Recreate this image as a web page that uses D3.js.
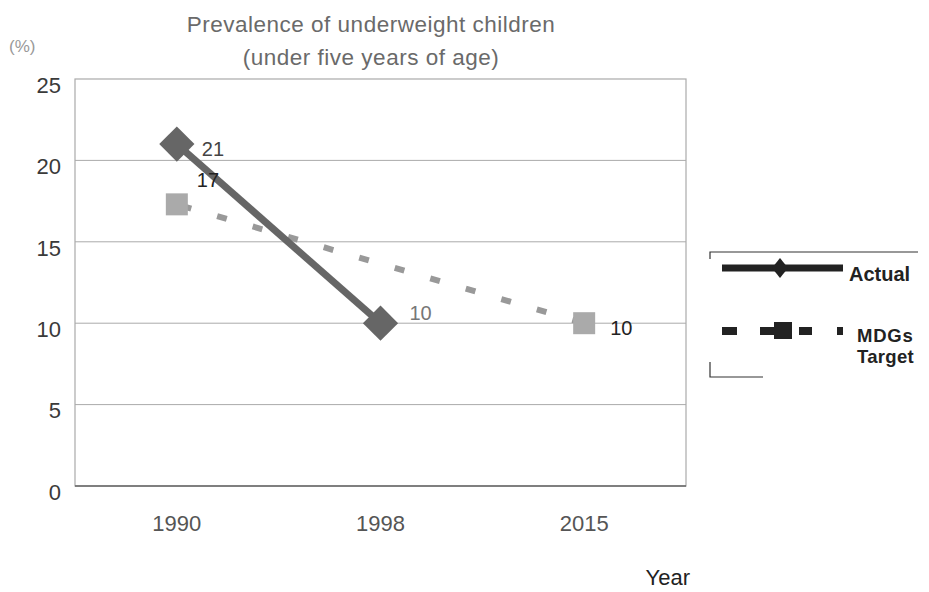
<!DOCTYPE html>
<html><head><meta charset="utf-8">
<script src="https://cdn.jsdelivr.net/npm/d3@7"></script>
<style>body{margin:0;background:#fff;}svg{display:block;}</style>
</head><body>
<svg id="c" width="929" height="592"></svg>
<script>
const years = ["1990", "1998", "2015"];
const actualYears = ["1990", "1998"];
const actualValues = [21, 10];
const actualLabels = ["21", "10"];
const targetYears = ["1990", "2015"];
const targetValues = [17.3, 10];
const targetLabels = ["17", "10"];
const yTicks = [0, 5, 10, 15, 20, 25];
const titleLines = ["Prevalence of underweight children", "(under five years of age)"];

const svg = d3.select("#c");
const font = "'Liberation Sans', Arial, Helvetica, sans-serif";
const L = 75, R = 686, T = 79, B = 486;
const x = d3.scaleBand().domain(years).range([L, R]);
const cx = d => x(d) + x.bandwidth() / 2;
const y = d3.scaleLinear().domain([0, 25]).range([B, T]);

// title
svg.selectAll("text.title").data(titleLines).join("text")
  .attr("x", 371).attr("y", (d, i) => 32 + i * 33)
  .attr("text-anchor", "middle").attr("font-family", font).attr("font-size", 22.5)
  .attr("letter-spacing", 0.5).attr("fill", "#6a6a6a").text(d => d);
svg.append("text").attr("x", 9).attr("y", 52).attr("font-family", font)
  .attr("font-size", 17).attr("fill", "#999").text("(%)");

// grid
svg.append("g").selectAll("line").data(yTicks.filter(t => t > 0 && t < 25)).join("line")
  .attr("x1", L).attr("x2", R).attr("y1", d => y(d)).attr("y2", d => y(d))
  .attr("stroke", "#aaa").attr("stroke-width", 1);
svg.append("rect").attr("x", L).attr("y", T).attr("width", R - L).attr("height", B - T)
  .attr("fill", "none").attr("stroke", "#aaa").attr("stroke-width", 1.2);
svg.append("line").attr("x1", L).attr("x2", R).attr("y1", B).attr("y2", B)
  .attr("stroke", "#666").attr("stroke-width", 1.5);

// y axis
const ya = svg.append("g").attr("transform", `translate(${L},0)`)
  .call(d3.axisLeft(y).tickValues(yTicks).tickSize(0).tickPadding(14));
ya.select(".domain").remove();
ya.selectAll("text").attr("font-family", font).attr("font-size", 22).attr("fill", "#3a3a3a")
  .attr("dy", "0.6em");

// x axis
const xa = svg.append("g").attr("transform", `translate(0,${B})`)
  .call(d3.axisBottom(x).tickSize(0).tickPadding(29));
xa.select(".domain").remove();
xa.selectAll("text").attr("font-family", font).attr("font-size", 22).attr("fill", "#555");

svg.append("text").attr("x", 690).attr("y", 585).attr("text-anchor", "end")
  .attr("font-family", font).attr("font-size", 22).attr("fill", "#222").text("Year");

// target series
const tData = targetYears.map((d, i) => ({ x: d, v: targetValues[i], l: targetLabels[i] }));
const aData = actualYears.map((d, i) => ({ x: d, v: actualValues[i], l: actualLabels[i] }));
svg.append("path").datum(tData)
  .attr("d", d3.line().x(d => cx(d.x)).y(d => y(d.v)))
  .attr("fill", "none").attr("stroke", "#999").attr("stroke-width", 6)
  .attr("stroke-dasharray", "10,27").attr("stroke-dashoffset", -5);
svg.selectAll("rect.t").data(tData).join("rect")
  .attr("x", d => cx(d.x) - 11).attr("y", d => y(d.v) - 11)
  .attr("width", 22).attr("height", 22).attr("fill", "#aaa");

// actual series
svg.append("path").datum(aData)
  .attr("d", d3.line().x(d => cx(d.x)).y(d => y(d.v)))
  .attr("fill", "none").attr("stroke", "#666").attr("stroke-width", 7);
const dia = d3.symbol().type(d3.symbolSquare).size(620);
svg.selectAll("path.a").data(aData).join("path")
  .attr("transform", d => `translate(${cx(d.x)},${y(d.v)}) rotate(45)`)
  .attr("d", dia).attr("fill", "#666");

// labels
svg.selectAll("text.al").data(aData).join("text")
  .attr("x", (d, i) => cx(d.x) + (i === 0 ? 25 : 29)).attr("y", (d, i) => y(d.v) + (i === 0 ? 12 : -3))
  .attr("font-family", font).attr("font-size", 20).attr("fill", (d, i) => i === 0 ? "#444" : "#777")
  .text(d => d.l);
svg.selectAll("text.tl").data(tData).join("text")
  .attr("x", (d, i) => cx(d.x) + (i === 0 ? 20 : 26)).attr("y", (d, i) => y(d.v) - (i === 0 ? 17 : -12))
  .attr("font-family", font).attr("font-size", 20).attr("fill", "#222")
  .text(d => d.l);

// legend
const lg = svg.append("g");
lg.append("path").attr("d", "M710,259V252H918").attr("fill", "none").attr("stroke", "#333").attr("stroke-width", 1.2);
lg.append("path").attr("d", "M710,362V377H763").attr("fill", "none").attr("stroke", "#333").attr("stroke-width", 1.2);
lg.append("line").attr("x1", 722).attr("x2", 843).attr("y1", 268).attr("y2", 268)
  .attr("stroke", "#222").attr("stroke-width", 7);
lg.append("path").attr("d", "M780,258L788,268L780,278L772,268Z").attr("fill", "#222");
lg.append("text").attr("x", 849).attr("y", 281).attr("font-family", font).attr("font-weight", "bold")
  .attr("font-size", 20).attr("fill", "#222").text("Actual");
lg.append("line").attr("x1", 722).attr("x2", 843).attr("y1", 331).attr("y2", 331)
  .attr("stroke", "#222").attr("stroke-width", 8).attr("stroke-dasharray", "15,23,32,7,13,25,6,10");
lg.append("rect").attr("x", 774).attr("y", 322).attr("width", 18).attr("height", 17).attr("fill", "#222");
lg.append("text").attr("x", 857).attr("y", 342).attr("font-family", font).attr("font-weight", "bold")
  .attr("font-size", 18.5).attr("letter-spacing", 0.8).attr("fill", "#222").text("MDGs");
lg.append("text").attr("x", 857).attr("y", 363).attr("font-family", font).attr("font-weight", "bold")
  .attr("font-size", 18.5).attr("letter-spacing", 0.3).attr("fill", "#222").text("Target");
</script>
</body></html>
